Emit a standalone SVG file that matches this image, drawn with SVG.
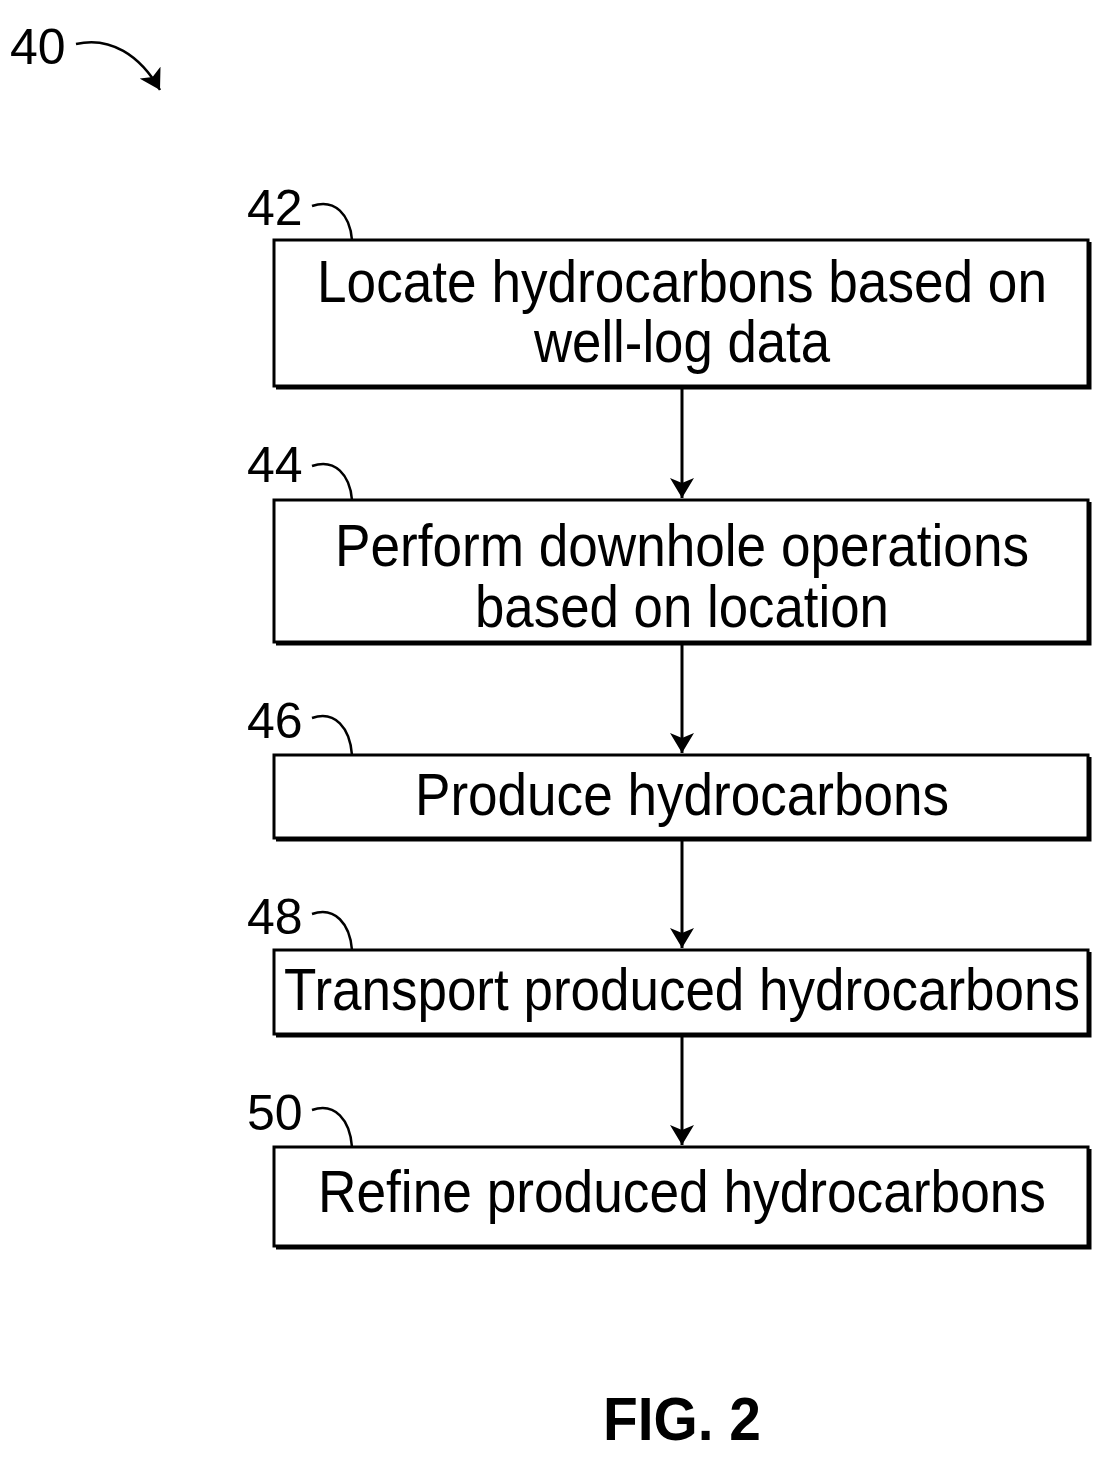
<svg xmlns="http://www.w3.org/2000/svg" width="1119" height="1460" viewBox="0 0 1119 1460">
<style>
.box{fill:#fff;stroke:#000;stroke-width:3}
.sh{fill:none;stroke:#000;stroke-width:3}
.t{font-family:"Liberation Sans",Arial,sans-serif;font-size:60px;text-anchor:middle}
.n{font-family:"Liberation Sans",Arial,sans-serif;font-size:50px}
.ld{fill:none;stroke:#000;stroke-width:2.5}
</style>
<defs><marker id="a" markerWidth="10" markerHeight="10" refX="9" refY="5" orient="auto" markerUnits="userSpaceOnUse" viewBox="0 0 10 10"><path d="M0,0L10,5L0,10z" transform="scale(1)"/></marker>
<marker id="ah" viewBox="0 0 20 24" refX="20" refY="12" markerWidth="20" markerHeight="24" orient="auto" markerUnits="userSpaceOnUse"><path d="M0,0L20,12L0,24L5,12z"/></marker></defs>
<g id="ref40"><text class="n" x="10" y="64">40</text><path class="ld" d="M76,44 C110,36 140,55 160,90" marker-end="url(#ah)"/></g>
<g id="n42"><text class="n" x="247" y="225">42</text><path class="ld" d="M312,206 C335,198 350,215 352,240"/><rect class="box" x="274" y="240" width="814" height="146"/><path class="sh" d="M1090,242V388H276"/><text class="t" x="682" y="302" textLength="730" lengthAdjust="spacingAndGlyphs">Locate hydrocarbons based on</text><text class="t" x="682" y="362" textLength="296" lengthAdjust="spacingAndGlyphs">well-log data</text></g>
<g id="n44"><text class="n" x="247" y="482">44</text><path class="ld" d="M312,466 C335,458 350,475 352,500"/><rect class="box" x="274" y="500" width="814" height="142"/><path class="sh" d="M1090,502V644H276"/><text class="t" x="682" y="566" textLength="694" lengthAdjust="spacingAndGlyphs">Perform downhole operations</text><text class="t" x="682" y="627" textLength="414" lengthAdjust="spacingAndGlyphs">based on location</text></g>
<g id="n46"><text class="n" x="247" y="738">46</text><path class="ld" d="M312,718 C335,710 350,728 352,755"/><rect class="box" x="274" y="755" width="814" height="83"/><path class="sh" d="M1090,757V840H276"/><text class="t" x="682" y="815" textLength="534" lengthAdjust="spacingAndGlyphs">Produce hydrocarbons</text></g>
<g id="n48"><text class="n" x="247" y="934">48</text><path class="ld" d="M312,914 C335,906 350,924 352,950"/><rect class="box" x="274" y="950" width="814" height="84"/><path class="sh" d="M1090,952V1036H276"/><text class="t" x="682" y="1010" textLength="796" lengthAdjust="spacingAndGlyphs">Transport produced hydrocarbons</text></g>
<g id="n50"><text class="n" x="247" y="1130">50</text><path class="ld" d="M312,1110 C335,1102 350,1120 352,1147"/><rect class="box" x="274" y="1147" width="814" height="99"/><path class="sh" d="M1090,1149V1248H276"/><text class="t" x="682" y="1212" textLength="728" lengthAdjust="spacingAndGlyphs">Refine produced hydrocarbons</text></g>
<g id="connectors" stroke="#000" stroke-width="3">
<line x1="682" y1="388" x2="682" y2="498" marker-end="url(#ah)"/>
<line x1="682" y1="644" x2="682" y2="753" marker-end="url(#ah)"/>
<line x1="682" y1="840" x2="682" y2="948" marker-end="url(#ah)"/>
<line x1="682" y1="1036" x2="682" y2="1145" marker-end="url(#ah)"/>
</g>
<text x="682" y="1440" font-family="Liberation Sans,Arial,sans-serif" font-weight="bold" font-size="62" text-anchor="middle" textLength="158" lengthAdjust="spacingAndGlyphs">FIG. 2</text>
</svg>
